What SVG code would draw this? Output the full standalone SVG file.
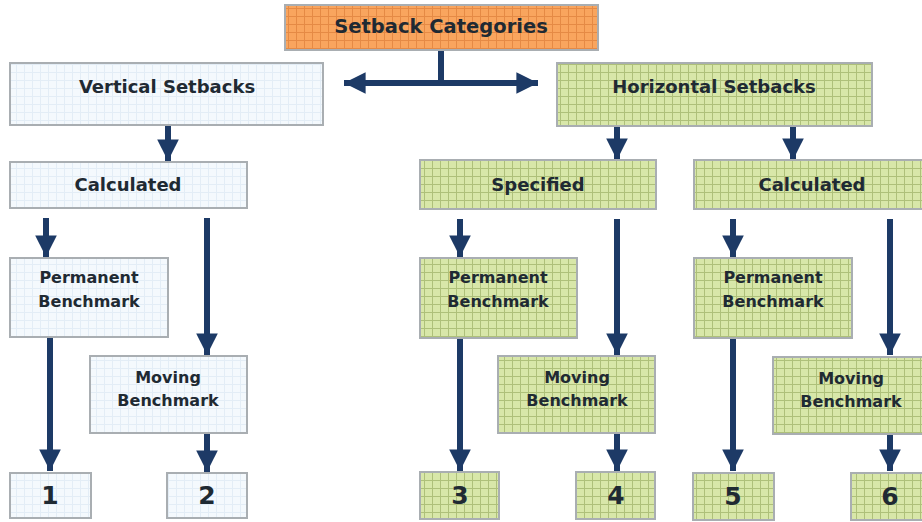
<svg xmlns="http://www.w3.org/2000/svg" width="922" height="522" viewBox="0 0 922 522">
  <defs>
    <pattern id="gridOrange" width="8" height="8" patternUnits="userSpaceOnUse">
      <rect width="8" height="8" fill="#f9a55e"/>
      <path d="M0 0.5H8M0.5 0V8" stroke="#e58a45" stroke-width="1" fill="none"/>
    </pattern>
    <pattern id="gridGreen" width="8" height="8" patternUnits="userSpaceOnUse">
      <rect width="8" height="8" fill="#d8e7a9"/>
      <path d="M0 0.5H8M0.5 0V8" stroke="#aec07a" stroke-width="1" fill="none"/>
    </pattern>
    <pattern id="gridBlue" width="8" height="8" patternUnits="userSpaceOnUse">
      <rect width="8" height="8" fill="#f4f9fd"/>
      <path d="M0 0.5H8M0.5 0V8" stroke="#e3edf6" stroke-width="1" fill="none"/>
    </pattern>
    <marker id="head" viewBox="0 0 10 10" refX="10" refY="5" markerWidth="3.6" markerHeight="3.6" orient="auto" markerUnits="strokeWidth">
      <path d="M0 0L10 5L0 10z" fill="#1d3a66"/>
    </marker>
  </defs>
  <style>
    .box { stroke: #a9aeb2; stroke-width: 2; }
    .orange { fill: url(#gridOrange); }
    .green { fill: url(#gridGreen); }
    .blue { fill: url(#gridBlue); }
    .lbl { font-family: "DejaVu Sans", Verdana, sans-serif; font-weight: bold; fill: #1f2a33; text-anchor: middle; }
    .top { font-size: 19.5px; }
    .big { font-size: 18px; }
    .mid { font-size: 16px; }
    .num { font-size: 25px; }
    .conn { stroke: #1d3a66; stroke-width: 6; fill: none; marker-end: url(#head); }
    .plain { stroke: #1d3a66; stroke-width: 6; fill: none; }
  </style>
  <rect width="922" height="522" fill="#ffffff"/>

  <g id="connectors">
    <line class="plain" x1="441" y1="49" x2="441" y2="83"/>
    <line class="conn" x1="441" y1="83" x2="344" y2="83"/>
    <line class="conn" x1="441" y1="83" x2="538" y2="83"/>
    <line class="conn" x1="168" y1="123" x2="168" y2="161"/>
    <line class="conn" x1="46" y1="218" x2="46" y2="257"/>
    <line class="conn" x1="207" y1="218" x2="207" y2="355"/>
    <line class="conn" x1="50" y1="337" x2="50" y2="471"/>
    <line class="conn" x1="207" y1="433" x2="207" y2="472"/>
    <line class="conn" x1="617" y1="126" x2="617" y2="160"/>
    <line class="conn" x1="793" y1="126" x2="793" y2="160"/>
    <line class="conn" x1="460" y1="219" x2="460" y2="257"/>
    <line class="conn" x1="617" y1="219" x2="617" y2="355"/>
    <line class="conn" x1="460" y1="338" x2="460" y2="471"/>
    <line class="conn" x1="617" y1="433" x2="617" y2="471"/>
    <line class="conn" x1="733" y1="219" x2="733" y2="257"/>
    <line class="conn" x1="890" y1="219" x2="890" y2="355"/>
    <line class="conn" x1="733" y1="338" x2="733" y2="471"/>
    <line class="conn" x1="890" y1="434" x2="890" y2="471"/>
  </g>

  <g id="setback-categories">
    <rect class="box orange" x="285" y="5" width="313" height="45"/>
    <text class="lbl top" x="441" y="33">Setback Categories</text>
  </g>
  <g id="vertical-setbacks">
    <rect class="box blue" x="10" y="63" width="313" height="62"/>
    <text class="lbl big" x="167" y="93">Vertical Setbacks</text>
  </g>
  <g id="horizontal-setbacks">
    <rect class="box green" x="557" y="63" width="315" height="63"/>
    <text class="lbl big" x="714" y="93">Horizontal Setbacks</text>
  </g>
  <g id="calculated-vertical">
    <rect class="box blue" x="10" y="162" width="237" height="46"/>
    <text class="lbl big" x="128" y="191">Calculated</text>
  </g>
  <g id="specified">
    <rect class="box green" x="420" y="160" width="236" height="49"/>
    <text class="lbl big" x="538" y="191">Specified</text>
  </g>
  <g id="calculated-horizontal">
    <rect class="box green" x="694" y="160" width="232" height="49"/>
    <text class="lbl big" x="812" y="191">Calculated</text>
  </g>

  <g id="permanent-1">
    <rect class="box blue" x="10" y="258" width="158" height="79"/>
    <text class="lbl mid" x="89" y="283">Permanent</text>
    <text class="lbl mid" x="89" y="307">Benchmark</text>
  </g>
  <g id="moving-1">
    <rect class="box blue" x="90" y="356" width="157" height="77"/>
    <text class="lbl mid" x="168" y="383">Moving</text>
    <text class="lbl mid" x="168" y="406">Benchmark</text>
  </g>
  <g id="permanent-2">
    <rect class="box green" x="420" y="258" width="157" height="80"/>
    <text class="lbl mid" x="498" y="283">Permanent</text>
    <text class="lbl mid" x="498" y="307">Benchmark</text>
  </g>
  <g id="moving-2">
    <rect class="box green" x="498" y="356" width="157" height="77"/>
    <text class="lbl mid" x="577" y="383">Moving</text>
    <text class="lbl mid" x="577" y="406">Benchmark</text>
  </g>
  <g id="permanent-3">
    <rect class="box green" x="694" y="258" width="158" height="80"/>
    <text class="lbl mid" x="773" y="283">Permanent</text>
    <text class="lbl mid" x="773" y="307">Benchmark</text>
  </g>
  <g id="moving-3">
    <rect class="box green" x="773" y="357" width="155" height="77"/>
    <text class="lbl mid" x="851" y="384">Moving</text>
    <text class="lbl mid" x="851" y="407">Benchmark</text>
  </g>

  <g id="result-1">
    <rect class="box blue" x="10" y="473" width="81" height="45"/>
    <text class="lbl num" x="50" y="504">1</text>
  </g>
  <g id="result-2">
    <rect class="box blue" x="167" y="473" width="80" height="45"/>
    <text class="lbl num" x="207" y="504">2</text>
  </g>
  <g id="result-3">
    <rect class="box green" x="420" y="472" width="79" height="47"/>
    <text class="lbl num" x="460" y="504">3</text>
  </g>
  <g id="result-4">
    <rect class="box green" x="576" y="472" width="79" height="47"/>
    <text class="lbl num" x="616" y="504">4</text>
  </g>
  <g id="result-5">
    <rect class="box green" x="693" y="473" width="81" height="47"/>
    <text class="lbl num" x="733" y="505">5</text>
  </g>
  <g id="result-6">
    <rect class="box green" x="851" y="473" width="80" height="47"/>
    <text class="lbl num" x="890" y="505">6</text>
  </g>
</svg>
